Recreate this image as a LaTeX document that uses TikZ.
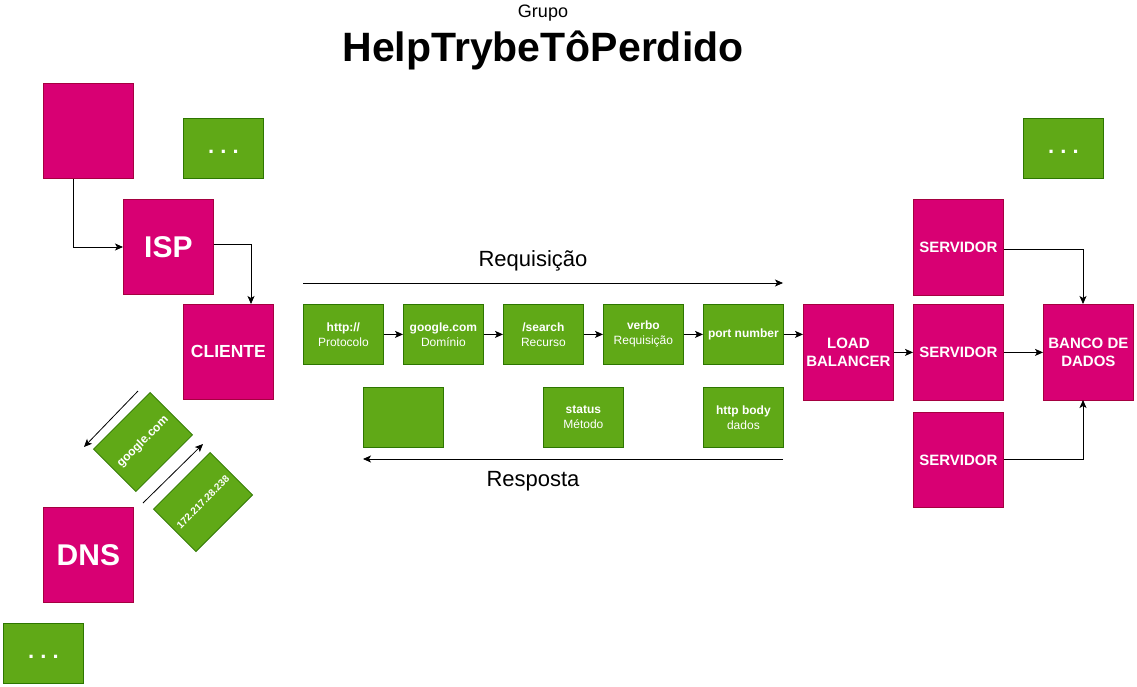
\documentclass[tikz,border=0pt]{standalone}
\usepackage{fontspec}
\setmainfont{Liberation Sans}
\usetikzlibrary{arrows.meta}
\definecolor{pinkfill}{HTML}{D80073}
\definecolor{pinkline}{HTML}{A50040}
\definecolor{greenfill}{HTML}{60A917}
\definecolor{greenline}{HTML}{2D7600}
\begin{document}
\begin{tikzpicture}[x=1pt,y=-1pt,
  pinkbox/.style={draw=pinkline, fill=pinkfill, text=white, font=\bfseries\fontsize{15}{18}\selectfont, align=center, minimum width=90pt, minimum height=95pt, inner sep=0pt, anchor=north west, line width=0.8pt},
  bigpink/.style={pinkbox, font=\bfseries\fontsize{30}{36}\selectfont},
  greenbox/.style={draw=greenline, fill=greenfill, text=white, font=\fontsize{12}{15}\selectfont, align=center, minimum width=80pt, minimum height=60pt, inner sep=0pt, anchor=north west, line width=0.8pt},
  dotsbox/.style={greenbox, font=\bfseries\fontsize{22}{26}\selectfont},
  diagbox/.style={draw=greenline, fill=greenfill, text=white, font=\bfseries\fontsize{12}{15}\selectfont, minimum width=80pt, minimum height=60pt, inner sep=0pt, rotate=45, line width=0.8pt},
  arr/.style={-{Stealth[length=8pt,width=7pt,inset=2pt]}, line width=0.8pt},
  label/.style={font=\fontsize{22}{26}\selectfont, inner sep=0pt},
]
\path[fill=white] (0,0) rectangle (1137,687);
\useasboundingbox (0,0) rectangle (1137,687);

% title
\node[font=\fontsize{18}{22}\selectfont, inner sep=0pt] (grupo) at (543,13) {Grupo};
\node[font=\bfseries\fontsize{41}{49}\selectfont, inner sep=0pt] (titulo) at (543,50) {HelpTrybeTôPerdido};

% left column
\node[pinkbox] (computador) at (43,83) {};
\node[dotsbox] (dotsA) at (183,118) {.\ .\ .\strut};
\node[bigpink] (isp) at (123,199) {ISP};
\node[pinkbox, font=\bfseries\fontsize{17.5}{21}\selectfont] (cliente) at (183,304) {CLIENTE};
\node[bigpink] (dns) at (43,507) {DNS};
\node[dotsbox] (dotsB) at (3,623) {.\ .\ .\strut};

\draw[arr] (computador.south west) ++(30,0) coordinate (c1) -- (c1 |- 0,247) -- (isp.west |- 0,247);
\draw[arr] (isp.east |- 0,244) -- (251,244) -- (251,304);

% DNS lookup
\node[diagbox] (qname) at (143,442) {google.com};
\node[diagbox, font=\bfseries\fontsize{10}{12}\selectfont] (qip) at (203,502) {172.217.28.238};
\coordinate (a1s) at (138,391);
\coordinate (a1e) at (84,447);
\coordinate (a2s) at (143,503);
\coordinate (a2e) at (203,444);
\draw[arr] (a1s) -- (a1e);
\draw[arr] (a2s) -- (a2e);

% request row
\node[greenbox] (proto) at (303,304) {\textbf{http://}\\Protocolo};
\node[greenbox] (dom) at (403,304) {\textbf{google.com}\\Domínio};
\node[greenbox] (rec) at (503,304) {\textbf{/search}\\Recurso};
\node[greenbox] (verbo) at (603,304) {\textbf{verbo}\\Requisição};
\node[greenbox] (port) at (703,304) {\textbf{port number}};
\draw[arr] (proto) -- (dom);
\draw[arr] (dom) -- (rec);
\draw[arr] (rec) -- (verbo);
\draw[arr] (verbo) -- (port);

% response row
\node[greenbox] (resp1) at (363,387) {};
\node[greenbox] (stat) at (543,387) {\textbf{status}\\Método};
\node[greenbox] (body) at (703,387) {\textbf{http body}\\dados};

% request / response arrows
\coordinate (rqs) at (303,283);
\coordinate (rqe) at (783,283);
\coordinate (rss) at (783,459);
\coordinate (rse) at (363,459);
\draw[arr] (rqs) -- (rqe);
\draw[arr] (rss) -- (rse);
\node[label] (requisicao) at (533,261) {Requisição};
\node[label] (resposta) at (533,481) {Resposta};

% server side
\node[pinkbox, minimum height=96pt] (lb) at (803,304) {LOAD\\BALANCER};
\node[pinkbox, minimum height=96pt] (srv1) at (913,199) {SERVIDOR};
\node[pinkbox, minimum height=96pt] (srv2) at (913,304) {SERVIDOR};
\node[pinkbox, minimum height=95pt] (srv3) at (913,412) {SERVIDOR};
\node[pinkbox, minimum height=96pt] (bd) at (1043,304) {BANCO DE\\DADOS};
\node[dotsbox] (dotsC) at (1023,118) {.\ .\ .\strut};

\draw[arr] (port.east) -- (lb.west |- port.east);
\draw[arr] (lb) -- (srv2);
\draw[arr] (srv2) -- (bd);
\draw[arr] (srv1.east |- 0,249) -- (1083,249) -- (1083,304);
\draw[arr] (srv3.east |- 0,459) -- (1083,459) -- (1083,400);
\end{tikzpicture}
\end{document}
